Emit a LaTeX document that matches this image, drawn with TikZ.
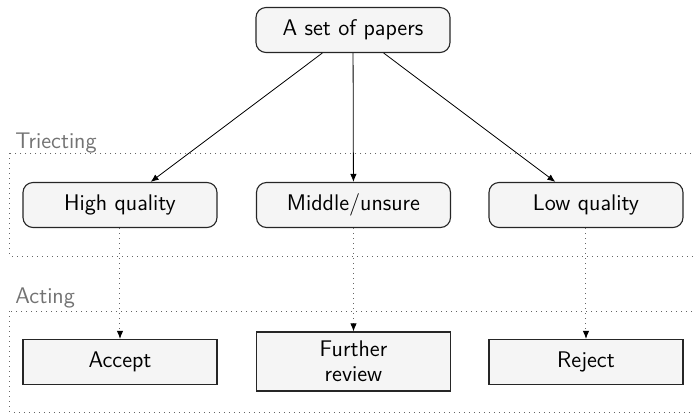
\documentclass[tikz,border=0pt]{standalone}
\usetikzlibrary{arrows.meta}
\renewcommand{\familydefault}{\sfdefault}
\begin{document}
\begin{tikzpicture}[x=0.5pt,y=-0.5pt,
  font=\fontsize{11.3}{12.5}\selectfont\sffamily,
  box/.style={draw=black!85,line width=0.55pt,fill=black!4,minimum width=97pt,
    minimum height=22.5pt,inner sep=2pt,align=center},
  roundbox/.style={box,rounded corners=5pt},
  sharpbox/.style={box},
  stage/.style={draw=black!60,dotted,line width=0.5pt},
  stagelabel/.style={text=black!55,anchor=base west,inner sep=0pt},
  flow/.style={draw=black,line width=0.4pt,-{Latex[length=4pt,width=3.2pt]}},
  act/.style={draw=black!60,dotted,line width=0.5pt,
    -{Latex[length=4pt,width=3.2pt,fill=black,color=black]}}]
\useasboundingbox (0,0) rectangle (693,414);

% stage frames, open to the right
\draw[stage] (10,153) rectangle (720,256);
\draw[stage] (10,311) rectangle (720,412);
\node[stagelabel] (lt) at (15,148) {Triecting};
\node[stagelabel] (la) at (15,303) {Acting};

% nodes
\node[roundbox] (top) at (353,30) {A set of papers};
\node[roundbox] (hq) at (120,205) {High quality};
\node[roundbox] (mq) at (353.5,205) {Middle/unsure};
\node[roundbox] (lq) at (586,205) {Low quality};
\node[sharpbox] (acc) at (120,362) {Accept};
\node[sharpbox,minimum height=29.5pt] (fr) at (353.5,361.5) {Further\\review};
\node[sharpbox] (rej) at (586,362) {Reject};

% connectors
\draw[flow] (top) -- (hq);
\draw[flow] (top) -- (mq);
\draw[flow] (top) -- (lq);
\draw[act] (hq) -- (acc);
\draw[act] (mq) -- (fr);
\draw[act] (lq) -- (rej);
\end{tikzpicture}
\end{document}
